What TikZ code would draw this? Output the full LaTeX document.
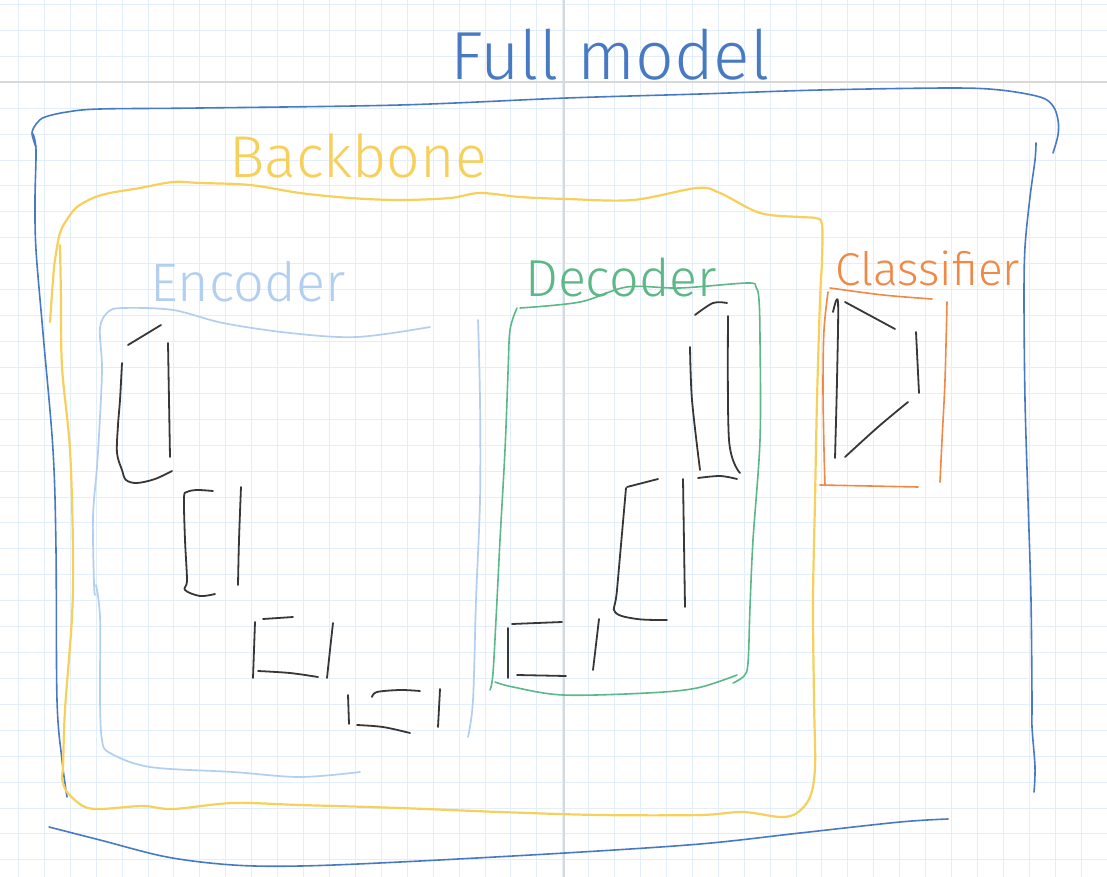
\documentclass[tikz,border=0pt]{standalone}
\usepackage{fontspec}
\newfontfamily\hand{Fira Sans Light}
\definecolor{fullblue}{RGB}{72,122,196}
\definecolor{bbyellow}{RGB}{247,208,92}
\definecolor{encblue}{RGB}{178,206,240}
\definecolor{decgreen}{RGB}{92,184,134}
\definecolor{clsorange}{RGB}{240,136,70}
\definecolor{ink}{RGB}{55,55,55}
\definecolor{gridc}{RGB}{226,238,250}
\definecolor{grayc}{RGB}{216,216,216}
\tikzset{
  fullm/.style={draw=fullblue, line width=1.6pt},
  bbone/.style={draw=bbyellow, line width=2.2pt},
  encb/.style={draw=encblue, line width=1.7pt},
  decb/.style={draw=decgreen, line width=1.6pt},
  clsb/.style={draw=clsorange, line width=1.6pt},
  blk/.style={draw=ink, line width=1.8pt},
  lbl/.style={inner sep=0pt, anchor=base},
  sm/.style={smooth, tension=0.55}
}
\begin{document}
\begin{tikzpicture}[x=1pt,y=-1pt, line cap=round, line join=round]
\useasboundingbox (0,0) rectangle (1107,877);
\fill[white] (0,0) rectangle (1107,877);
% grid paper
\foreach \i in {0,...,42} \draw[gridc, line width=0.9pt] ({18.4+25.92*\i},0) -- ++(0,877);
\foreach \j in {0,...,33} \draw[gridc, line width=0.9pt] (0,{4.5+25.92*\j}) -- ++(1107,0);
\draw[grayc, line width=2pt] (564,0) -- (564,877);
\draw[grayc, line width=2pt] (0,82) -- (1107,82);

% ---------- Full model ----------
\node[lbl, font=\hand\fontsize{68}{68}\selectfont, text=fullblue] (tfull) at (610,80) {Full model};
\draw[fullm] plot[sm] coordinates {(36,147) (32,133) (37,123) (45,117) (67,112) (100,109) (200,108) (400,105) (567,98) (700,94) (820,90) (950,88) (1000,90) (1040,97) (1053,106) (1058,120) (1058,135) (1053,153)};
\draw[fullm] plot[sm] coordinates {(33,134) (36,150) (35,200) (36,250) (43,333) (53,450) (56,550) (57,700) (62,760) (67,797)};
\draw[fullm] plot[sm] coordinates {(1036,143) (1035,160) (1030,197) (1025,247) (1024,300) (1025,400) (1028,500) (1031,600) (1032,700) (1032,727) (1035,767) (1034,792)};
\draw[fullm] plot[sm] coordinates {(49,827) (100,840) (167,857) (233,865) (300,866) (400,862) (565,853) (700,844) (800,833) (900,822) (948,819)};

% ---------- Backbone ----------
\node[lbl, font=\hand\fontsize{59}{59}\selectfont, text=bbyellow] (tbb) at (358,178) {Backbone};
\draw[bbone] plot[sm] coordinates {(50,322) (53,280) (55,260) (60,233) (68,218) (77,207) (93,198) (110,193) (140,188) (173,182) (200,183) (250,185) (300,193) (350,198) (400,200) (450,198) (480,193) (520,197) (567,199) (633,200) (697,188) (720,193) (760,213) (800,217) (815,218) (822,224) (822,260) (820,300) (817,400) (815,500) (813,600) (814,700) (815,767) (810,797) (797,813) (780,817) (743,812) (700,815) (600,815) (500,812) (400,808) (300,805) (233,803) (173,809) (143,806) (100,809) (83,806) (67,792) (62,778) (63,767) (65,710) (72,617) (73,550) (70,450) (62,367) (61,300) (60,245)};

% ---------- Encoder ----------
\node[lbl, font=\hand\fontsize{54}{54}\selectfont, text=encblue] (tenc) at (248,301) {Encoder};
\draw[encb] plot[sm] coordinates {(430,327) (357,337) (290,333) (223,323) (173,310) (123,308) (108,312) (100,328) (102,367) (100,417) (97,467) (93,517) (94,583) (95,595)};
\draw[encb] plot[sm] coordinates {(96,585) (100,617) (100,700) (102,740) (110,753) (150,767) (233,772) (300,777) (360,772)};
\draw[encb] plot[sm] coordinates {(478,320) (480,400) (480,500) (476,600) (473,700) (468,737)};
% encoder blocks
\draw[blk] (128,345) -- (161,325);
\draw[blk] plot[sm] coordinates {(122,363) (120,400) (118,425) (117,453) (122,470) (126,480) (137,483) (155,479) (172,471)};
\draw[blk] plot[sm] coordinates {(168,343) (169,400) (170,457)};
\draw[blk] plot[sm] coordinates {(213,491) (197,490) (187,492) (184,498) (185,540) (187,580) (185,590) (200,596) (215,594)};
\draw[blk] plot[sm] coordinates {(241,487) (239,540) (238,585)};
\draw[blk] (263,619) -- (293,617);
\draw[blk] (255,622) -- (253,678);
\draw[blk] plot[sm] coordinates {(258,671) (290,673) (318,677)};
\draw[blk] plot[sm] coordinates {(333,623) (330,650) (327,678)};
\draw[blk] (348,695) -- (349,724);
\draw[blk] plot[sm] coordinates {(372,697) (377,692) (400,690) (420,691)};
\draw[blk] plot[sm] coordinates {(357,725) (383,727) (410,733)};
\draw[blk] (440,689) -- (438,727);

% ---------- Decoder ----------
\node[lbl, font=\hand\fontsize{52}{52}\selectfont, text=decgreen] (tdec) at (621,296) {Decoder};
\draw[decb] plot[sm] coordinates {(520,308) (580,302) (627,287) (680,288) (747,283) (756,287) (759,300) (760,340) (760,440) (753,540) (750,607) (748,663) (744,676) (733,683)};
\draw[decb] plot[sm] coordinates {(517,308) (510,330) (508,373) (505,450) (500,540) (497,600) (493,673) (490,690)};
\draw[decb] plot[sm] coordinates {(495,682) (513,687) (563,695) (647,693) (697,688) (737,675)};
% decoder blocks
\draw[blk] plot[sm] coordinates {(695,315) (713,303) (727,303)};
\draw[blk] plot[sm] coordinates {(690,347) (692,400) (700,470)};
\draw[blk] plot[sm] coordinates {(728,316) (729,440) (740,473)};
\draw[blk] plot[sm] coordinates {(698,478) (720,476) (737,479)};
\draw[blk] (627,487) -- (658,479);
\draw[blk] plot[sm] coordinates {(626,488) (617,590) (615,612) (637,619) (667,620)};
\draw[blk] (683,479) -- (685,607);
\draw[blk] (512,624) -- (562,622);
\draw[blk] (508,628) -- (508,678);
\draw[blk] (517,675) -- (566,676);
\draw[blk] (599,619) -- (593,670);

% ---------- Classifier ----------
\node[lbl, font=\hand\fontsize{46}{46}\selectfont, text=clsorange] (tcls) at (928,285) {Classifier};
\draw[clsb] plot[sm] coordinates {(830,288) (883,295) (932,299)};
\draw[clsb] plot[sm] coordinates {(828,292) (824,330) (823,387) (824,450) (825,485)};
\draw[clsb] plot[sm] coordinates {(820,485) (870,486) (918,487)};
\draw[clsb] plot[sm] coordinates {(947,302) (945,380) (942,440) (940,482)};
% classifier triangle
\draw[blk] plot[sm] coordinates {(833,312) (838,302) (837,380) (835,458)};
\draw[blk] (845,302) -- (895,329);
\draw[blk] (916,332) -- (919,393);
\draw[blk] plot[sm] coordinates {(845,457) (878,427) (908,402)};
\end{tikzpicture}
\end{document}
